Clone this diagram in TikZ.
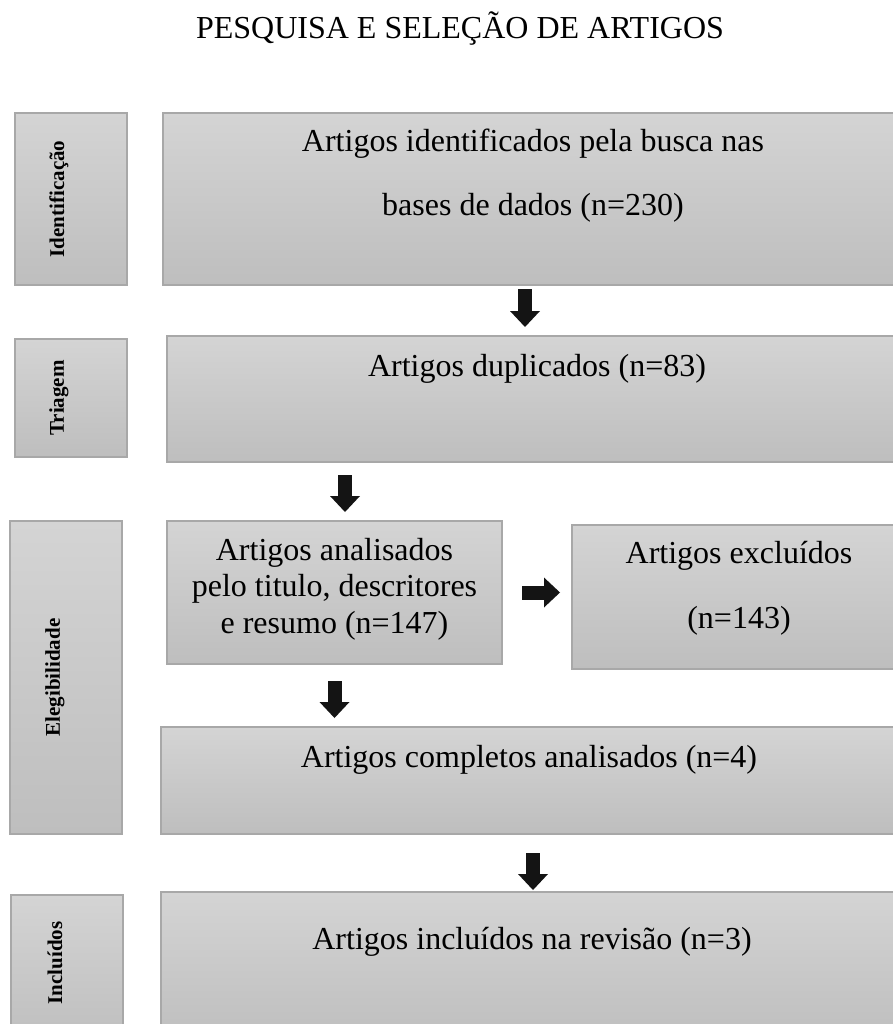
\documentclass[tikz,border=0pt]{standalone}
\usepackage{fontspec}
\setmainfont{Liberation Serif}
\usetikzlibrary{arrows.meta}
\definecolor{mylight}{RGB}{212,212,212}
\definecolor{mydark}{RGB}{190,190,190}
\definecolor{myborder}{RGB}{168,168,168}
\colorlet{myarrow}{black!92}
\tikzset{
	caixa/.style={draw=myborder, line width=1.2pt, top color=mylight, bottom color=mydark, inner sep=0pt, outer sep=0pt, anchor=north west},
	rotulo/.style={font=\bfseries\fontsize{21}{25}\selectfont, rotate=90},
	texto/.style={font=\fontsize{32}{36.5}\selectfont, align=center},
	seta/.style={line width=14pt, draw=myarrow, -{Triangle[width=30pt,length=16pt,line width=0pt]}}
}

\begin{document}
\begin{tikzpicture}[x=1pt,y=-1pt]
		\useasboundingbox (0,0) rectangle (892,1024);
		
		% Title
		\node[texto] (titulo) at (460,29) {PESQUISA E SELEÇÃO DE ARTIGOS};
		
		% Draw the stage boxes
		\node[caixa, minimum width=112pt, minimum height=172pt] (rotident) at (15,113) {};
		\node[caixa, minimum width=112pt, minimum height=118pt] (rottri) at (15,339) {};
		\node[caixa, minimum width=112pt, minimum height=313pt] (roteleg) at (10,521) {};
		\node[caixa, minimum width=112pt, minimum height=150pt] (rotincl) at (11,895) {};
		
		% Draw the main boxes
		\node[caixa, minimum width=742pt, minimum height=172pt] (ident) at (163,113) {};
		\node[caixa, minimum width=738pt, minimum height=126pt] (dup) at (167,336) {};
		\node[caixa, minimum width=335pt, minimum height=143pt] (analis) at (167,521) {};
		\node[caixa, minimum width=333pt, minimum height=144pt] (exclu) at (572,525) {};
		\node[caixa, minimum width=744pt, minimum height=107pt] (compl) at (161,727) {};
		\node[caixa, minimum width=744pt, minimum height=150pt] (incl) at (161,892) {};
		
		% Label the stages
		\node[rotulo] (lident) at ([xshift=-12pt]rotident.center) {Identificação};
		\node[rotulo] (ltri) at ([xshift=-12pt]rottri.center) {Triagem};
		\node[rotulo] (leleg) at ([xshift=-11pt]roteleg.center) {Elegibilidade};
		\node[rotulo] (lincl) at ([xshift=-12pt,yshift=7pt]rotincl.center) {Incluídos};
		
		% Label the boxes
		\node[texto] (tident) at (533,176) {Artigos identificados pela busca nas\\[27.5pt]bases de dados (n=230)};
		\node[texto] (tdup) at (537,369) {Artigos duplicados (n=83)};
		\node[texto] (tanalis) at (334.5,589) {Artigos analisados\\pelo titulo, descritores\\e resumo (n=147)};
		\node[texto] (texclu) at (739,588) {Artigos excluídos\\[28.5pt](n=143)};
		\node[texto] (tcompl) at (529,760) {Artigos completos analisados (n=4)};
		\node[texto] (tincl) at (532,942) {Artigos incluídos na revisão (n=3)};
		
		% Draw the arrows
		\coordinate (xa) at (525,0);
		\coordinate (xb) at (345,0);
		\draw[seta, shorten <=4pt, shorten >=9pt] (ident.south -| xa) -- (dup.north -| xa);
		\draw[seta, shorten <=13pt, shorten >=9pt] (dup.south -| xb) -- (analis.north -| xb);
		\draw[seta, shorten <=20pt, shorten >=12pt] (analis.east) -- (analis.east -| exclu.west);
		\draw[seta, shorten <=17pt, shorten >=9pt] (analis.south) -- (analis.south |- compl.north);
		\draw[seta, shorten <=19pt, shorten >=2pt] (compl.south) -- (incl.north);
	\end{tikzpicture}
\end{document}
